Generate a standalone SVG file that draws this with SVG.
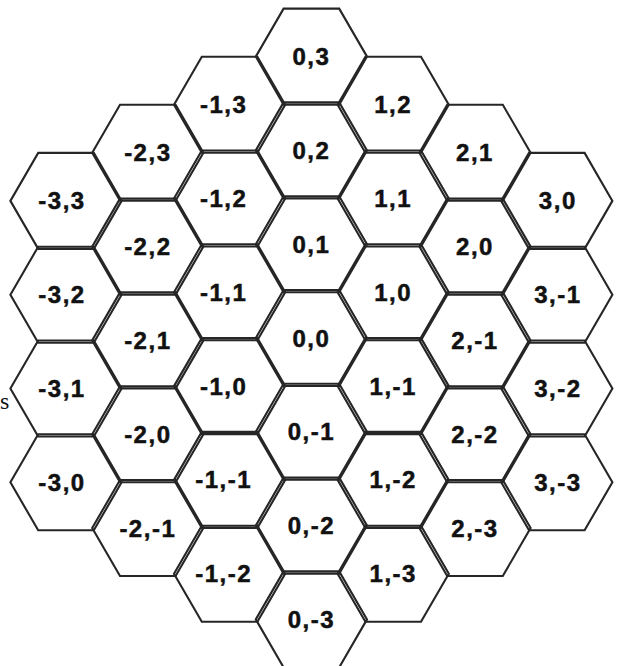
<svg xmlns="http://www.w3.org/2000/svg" xmlns:xlink="http://www.w3.org/1999/xlink" width="618" height="666" viewBox="0 0 618 666">
<style>
.hx{fill:none;stroke:#262626;stroke-width:2.1;stroke-linejoin:miter}
.lb{font-family:"Liberation Sans",Arial,sans-serif;font-weight:bold;font-size:24px;letter-spacing:1.5px;fill:#111;stroke:#111;stroke-width:0.5;text-anchor:middle}
.sx{font-family:"Liberation Serif","Times New Roman",serif;font-size:24px;fill:#111}
</style>
<defs>
<polygon id="hx" class="hx" points="-55.6,0 -27.8,-48 27.8,-48 55.6,0 27.8,48 -27.8,48"/>
</defs>
<rect width="618" height="666" fill="#fff"/>
<g id="connectors"></g>
<g id="nodes">
<g id="h-3_3" transform="translate(66,200.9)"><use xlink:href="#hx"/><text class="lb" x="-4" y="8.5">-3,3</text></g>
<g id="h-3_2" transform="translate(66,294.7)"><use xlink:href="#hx"/><text class="lb" x="-4" y="8.5">-3,2</text></g>
<g id="h-3_1" transform="translate(66,388.5)"><use xlink:href="#hx"/><text class="lb" x="-4" y="8.5">-3,1</text></g>
<g id="h-3_0" transform="translate(66,482.3)"><use xlink:href="#hx"/><text class="lb" x="-4" y="8.5">-3,0</text></g>
<g id="h-2_3" transform="translate(147.8,152.8)"><use xlink:href="#hx"/><text class="lb" x="0" y="8.5">-2,3</text></g>
<g id="h-2_2" transform="translate(147.8,246.6)"><use xlink:href="#hx"/><text class="lb" x="0" y="8.5">-2,2</text></g>
<g id="h-2_1" transform="translate(147.8,340.4)"><use xlink:href="#hx"/><text class="lb" x="0" y="8.5">-2,1</text></g>
<g id="h-2_0" transform="translate(147.8,434.2)"><use xlink:href="#hx"/><text class="lb" x="0" y="8.5">-2,0</text></g>
<g id="h-2_-1" transform="translate(147.8,528)"><use xlink:href="#hx"/><text class="lb" x="0" y="8.5">-2,-1</text></g>
<g id="h-1_3" transform="translate(229.6,104.7)"><use xlink:href="#hx"/><text class="lb" x="-6" y="8.5">-1,3</text></g>
<g id="h-1_2" transform="translate(229.6,198.5)"><use xlink:href="#hx"/><text class="lb" x="-6" y="8.5">-1,2</text></g>
<g id="h-1_1" transform="translate(229.6,292.3)"><use xlink:href="#hx"/><text class="lb" x="-6" y="8.5">-1,1</text></g>
<g id="h-1_0" transform="translate(229.6,386.1)"><use xlink:href="#hx"/><text class="lb" x="-6" y="8.5">-1,0</text></g>
<g id="h-1_-1" transform="translate(229.6,479.9)"><use xlink:href="#hx"/><text class="lb" x="-6" y="8.5">-1,-1</text></g>
<g id="h-1_-2" transform="translate(229.6,573.7)"><use xlink:href="#hx"/><text class="lb" x="-6" y="8.5">-1,-2</text></g>
<g id="h0_3" transform="translate(311.4,56.6)"><use xlink:href="#hx"/><text class="lb" x="0" y="8.5">0,3</text></g>
<g id="h0_2" transform="translate(311.4,150.4)"><use xlink:href="#hx"/><text class="lb" x="0" y="8.5">0,2</text></g>
<g id="h0_1" transform="translate(311.4,244.2)"><use xlink:href="#hx"/><text class="lb" x="0" y="8.5">0,1</text></g>
<g id="h0_0" transform="translate(311.4,338)"><use xlink:href="#hx"/><text class="lb" x="0" y="8.5">0,0</text></g>
<g id="h0_-1" transform="translate(311.4,431.8)"><use xlink:href="#hx"/><text class="lb" x="0" y="8.5">0,-1</text></g>
<g id="h0_-2" transform="translate(311.4,525.6)"><use xlink:href="#hx"/><text class="lb" x="0" y="8.5">0,-2</text></g>
<g id="h0_-3" transform="translate(311.4,619.4)"><use xlink:href="#hx"/><text class="lb" x="0" y="8.5">0,-3</text></g>
<g id="h1_2" transform="translate(393.2,104.7)"><use xlink:href="#hx"/><text class="lb" x="0" y="8.5">1,2</text></g>
<g id="h1_1" transform="translate(393.2,198.5)"><use xlink:href="#hx"/><text class="lb" x="0" y="8.5">1,1</text></g>
<g id="h1_0" transform="translate(393.2,292.3)"><use xlink:href="#hx"/><text class="lb" x="0" y="8.5">1,0</text></g>
<g id="h1_-1" transform="translate(393.2,386.1)"><use xlink:href="#hx"/><text class="lb" x="0" y="8.5">1,-1</text></g>
<g id="h1_-2" transform="translate(393.2,479.9)"><use xlink:href="#hx"/><text class="lb" x="0" y="8.5">1,-2</text></g>
<g id="h1_-3" transform="translate(393.2,573.7)"><use xlink:href="#hx"/><text class="lb" x="0" y="8.5">1,-3</text></g>
<g id="h2_1" transform="translate(475,152.8)"><use xlink:href="#hx"/><text class="lb" x="0" y="8.5">2,1</text></g>
<g id="h2_0" transform="translate(475,246.6)"><use xlink:href="#hx"/><text class="lb" x="0" y="8.5">2,0</text></g>
<g id="h2_-1" transform="translate(475,340.4)"><use xlink:href="#hx"/><text class="lb" x="0" y="8.5">2,-1</text></g>
<g id="h2_-2" transform="translate(475,434.2)"><use xlink:href="#hx"/><text class="lb" x="0" y="8.5">2,-2</text></g>
<g id="h2_-3" transform="translate(475,528)"><use xlink:href="#hx"/><text class="lb" x="0" y="8.5">2,-3</text></g>
<g id="h3_0" transform="translate(556.8,200.9)"><use xlink:href="#hx"/><text class="lb" x="1" y="8.5">3,0</text></g>
<g id="h3_-1" transform="translate(556.8,294.7)"><use xlink:href="#hx"/><text class="lb" x="1" y="8.5">3,-1</text></g>
<g id="h3_-2" transform="translate(556.8,388.5)"><use xlink:href="#hx"/><text class="lb" x="1" y="8.5">3,-2</text></g>
<g id="h3_-3" transform="translate(556.8,482.3)"><use xlink:href="#hx"/><text class="lb" x="1" y="8.5">3,-3</text></g>
</g>
<text class="sx" x="0" y="409">s</text>
</svg>
